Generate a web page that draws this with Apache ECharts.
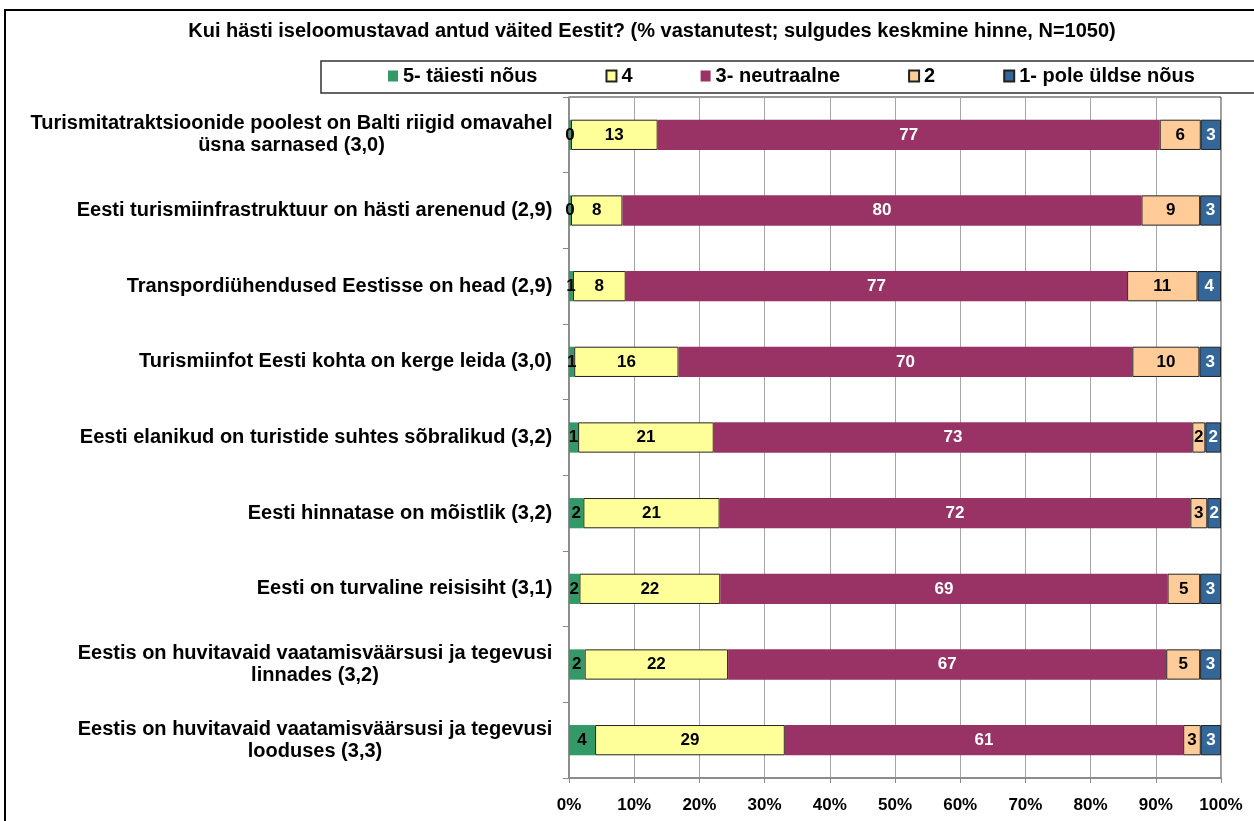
<!DOCTYPE html>
<html>
<head>
<meta charset="utf-8">
<script src="https://cdn.jsdelivr.net/npm/echarts@6/dist/echarts.min.js"></script>
<style>
html,body{margin:0;padding:0;background:#fff;}
#chart{width:1254px;height:821px;}
</style>
</head>
<body>
<div id="chart"></div>
<script>
const titleText = 'Kui hästi iseloomustavad antud väited Eestit? (% vastanutest; sulgudes keskmine hinne, N=1050)';
const categories = [
  'Turismitatraktsioonide poolest on Balti riigid omavahel\nüsna sarnased (3,0)',
  'Eesti turismiinfrastruktuur on hästi arenenud (2,9)',
  'Transpordiühendused Eestisse on head (2,9)',
  'Turismiinfot Eesti kohta on kerge leida (3,0)',
  'Eesti elanikud on turistide suhtes sõbralikud (3,2)',
  'Eesti hinnatase on mõistlik (3,2)',
  'Eesti on turvaline reisisiht (3,1)',
  'Eestis on huvitavaid vaatamisväärsusi ja tegevusi\nlinnades (3,2)',
  'Eestis on huvitavaid vaatamisväärsusi ja tegevusi\nlooduses (3,3)'
];
const seriesNames = ['5- täiesti nõus', '4', '3- neutraalne', '2', '1- pole üldse nõus'];
const val5 = [0.3, 0.3, 0.6, 0.8, 1.4, 2.2, 1.6, 2.4, 4.0];
const val4 = [13.3, 7.9, 8.1, 16.0, 20.8, 20.9, 21.6, 22.0, 29.1];
const val3 = [77.0, 79.6, 76.9, 69.6, 73.4, 72.2, 68.6, 67.2, 61.1];
const val2 = [6.3, 9.0, 10.8, 10.3, 2.0, 2.6, 5.0, 5.2, 2.7];
const val1 = [3.1, 3.2, 3.6, 3.3, 2.4, 2.1, 3.2, 3.2, 3.1];
const xTicks = [0, 10, 20, 30, 40, 50, 60, 70, 80, 90, 100];

const colors = ['#339966', '#FFFF99', '#993366', '#FFCC99', '#336699'];
const labelColors = ['#000', '#000', '#fff', '#000', '#fff'];
const bordered = [false, true, false, true, true];
const FONT = '"Liberation Sans", Arial, sans-serif';
const yFontSize = 20;

const cvs = document.createElement('canvas').getContext('2d');
cvs.font = 'bold ' + yFontSize + 'px ' + FONT;
const rich = {};
categories.forEach((c, i) => {
  const lines = c.split('\n');
  const w = Math.max.apply(null, lines.map(l => cvs.measureText(l).width));
  rich['w' + i] = {width: Math.ceil(w) + 1, align: 'center', fontSize: yFontSize, fontWeight: 'bold', fontFamily: FONT, color: '#000', lineHeight: 22};
});

const allVals = [val5, val4, val3, val2, val1];
const chart = echarts.init(document.getElementById('chart'), null, {renderer: 'canvas'});
chart.setOption({
  animation: false,
  backgroundColor: '#fff',
  textStyle: {fontFamily: FONT},
  title: {
    text: titleText,
    left: 647,
    textAlign: 'center',
    top: 16,
    textStyle: {fontSize: 20, fontWeight: 'bold', color: '#000', fontFamily: FONT}
  },
  legend: {
    left: 388,
    top: 66,
    width: 900,
    padding: 0,
    itemWidth: 10,
    itemHeight: 11,
    itemGap: 68,
    icon: 'rect',
    textStyle: {fontSize: 20, fontWeight: 'bold', color: '#000', fontFamily: FONT},
    data: seriesNames
  },
  grid: {
    left: 569, right: 33, top: 97, bottom: 43,
    show: true, borderColor: '#333', borderWidth: 1, containLabel: false
  },
  xAxis: {
    type: 'value', min: 0, max: 100, interval: 10,
    axisLine: {show: true, lineStyle: {color: '#888', width: 1.5}},
    axisTick: {show: true, length: 5, lineStyle: {color: '#888'}},
    splitLine: {show: true, lineStyle: {color: '#a6a6a6', width: 1}},
    axisLabel: {
      formatter: v => v + '%', margin: 19,
      fontSize: 17, fontWeight: 'bold', color: '#000', fontFamily: FONT
    }
  },
  yAxis: {
    type: 'category', inverse: true, data: categories,
    axisLine: {show: true, lineStyle: {color: '#888', width: 1.5}},
    axisTick: {show: true, length: 6, lineStyle: {color: '#888'}},
    axisLabel: {
      margin: 16,
      formatter: (v, i) => v.split('\n').map(l => '{w' + i + '|' + l + '}').join('\n'),
      rich: rich
    }
  },
  series: seriesNames.map((n, k) => ({
    name: n,
    type: 'bar',
    stack: 'total',
    barWidth: '40%',
    data: allVals[k],
    itemStyle: {
      color: colors[k],
      borderColor: bordered[k] ? '#222' : colors[k],
      borderWidth: bordered[k] ? 1 : 0
    },
    label: {
      show: true, position: 'inside',
      formatter: p => Math.round(p.value),
      fontSize: 17, fontWeight: 'bold', color: labelColors[k], fontFamily: FONT
    }
  })),
  graphic: [{
    type: 'rect', silent: true, z: 100,
    shape: {x: 5, y: 10, width: 1400, height: 1000},
    style: {fill: 'none', stroke: '#000', lineWidth: 2}
  }, {
    type: 'rect', silent: true, z: 100,
    shape: {x: 321, y: 61, width: 1000, height: 32},
    style: {fill: 'none', stroke: '#333', lineWidth: 1.5}
  }]
});
</script>
</body>
</html>
